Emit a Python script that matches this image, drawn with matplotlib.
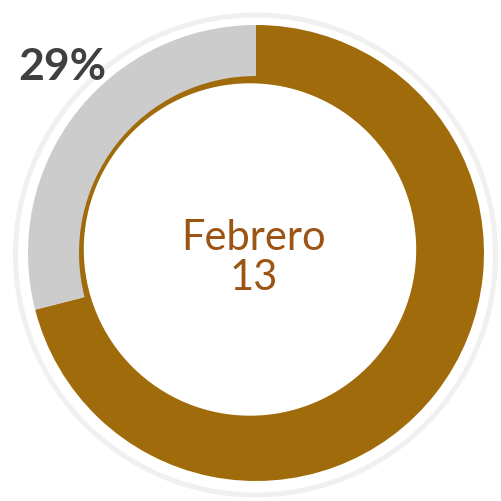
import matplotlib
matplotlib.use("Agg")
import matplotlib.pyplot as plt
from matplotlib.patches import Circle

# datos del grafico
categorias = ["Cumplido", "Pendiente"]
valores = [71, 29]
colores = ["#A06C0B", "#CCCCCC"]
mes = "Febrero"
dia = "13"

W = 502
fig = plt.figure(figsize=(5.02, 5.02), dpi=100)
ax = fig.add_axes([0, 0, 1, 1])
ax.set_xlim(0, W)
ax.set_ylim(0, W)
ax.set_aspect("equal")
ax.axis("off")

cx, cy = 256, W - 254
R = 228
ancho = 51

# aro exterior gris claro
ax.add_patch(Circle((255.5, W - 256), 240, fill=False, ec="#F0F0F0", lw=3.6, zorder=1))

# fondo marron bajo el anillo (se ve como linea fina en la parte gris)
ax.add_patch(Circle((cx, cy), R - ancho + 1, color=colores[0], zorder=2))

wedges, _ = ax.pie(valores, colors=colores, startangle=90, counterclock=False,
                   center=(cx, cy), radius=R, frame=True,
                   wedgeprops=dict(width=ancho, lw=0))
for w in wedges:
    w.set_zorder(3)

# hueco blanco (ligeramente desplazado)
ax.add_patch(Circle((250, W - 250.5), 165.5, color="white", zorder=4))

ax.set_xlim(0, W)
ax.set_ylim(0, W)
ax.axis("off")

# etiquetas de porcentaje
ax.text(62, W - 80, f"{valores[1]}%", ha="center", va="baseline",
        fontsize=32, fontweight="bold", color="#404040", family="Lato", zorder=5)
ax.text(137, W - 533.5, f"{valores[0]}%", ha="center", va="baseline",
        fontsize=32, fontweight="bold", color="#404040", family="Lato",
        zorder=5, clip_on=False)

# texto central
ax.text(254, W - 250, mes, ha="center", va="baseline", fontsize=30,
        color="#9C5414", family="Lato", zorder=5)
ax.text(254, W - 290, dia, ha="center", va="baseline", fontsize=30,
        color="#9C5414", family="Lato", zorder=5)

fig.savefig("out.png", dpi=100)
